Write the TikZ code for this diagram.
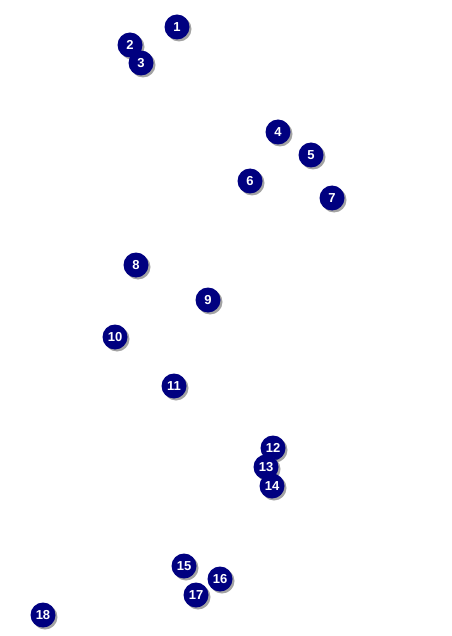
\documentclass[tikz,border=0pt]{standalone}
\usepackage{fontspec}
\setmainfont{Liberation Sans}
\usepackage{xcolor}
\usepackage{tikz}
\usetikzlibrary{shadows}
\definecolor{markernavy}{RGB}{0,0,128}

\begin{document}
\begin{tikzpicture}[
  x=1pt,y=-1pt,
  marker/.style={circle,fill=markernavy,text=white,minimum size=25pt,inner sep=0pt,
    font=\fontsize{13}{13}\selectfont\bfseries,
    drop shadow={shadow xshift=2pt,shadow yshift=-2pt,fill=gray!80,opacity=0.9}}
]
\useasboundingbox (0,0) rectangle (451,636);
\foreach \i/\pos in {1/{177,27},2/{130,45},3/{141,63},4/{278,132},5/{311,155},6/{250,181},
  7/{332,198},8/{136,265},9/{208,300},10/{115,337},11/{174,386},12/{273,448},
  13/{266,467},14/{272,486},15/{184,566},16/{220,579},17/{196,595},18/{43,615}}{
  \node[marker] (m\i) at (\pos) {\i};
}
\end{tikzpicture}
\end{document}
